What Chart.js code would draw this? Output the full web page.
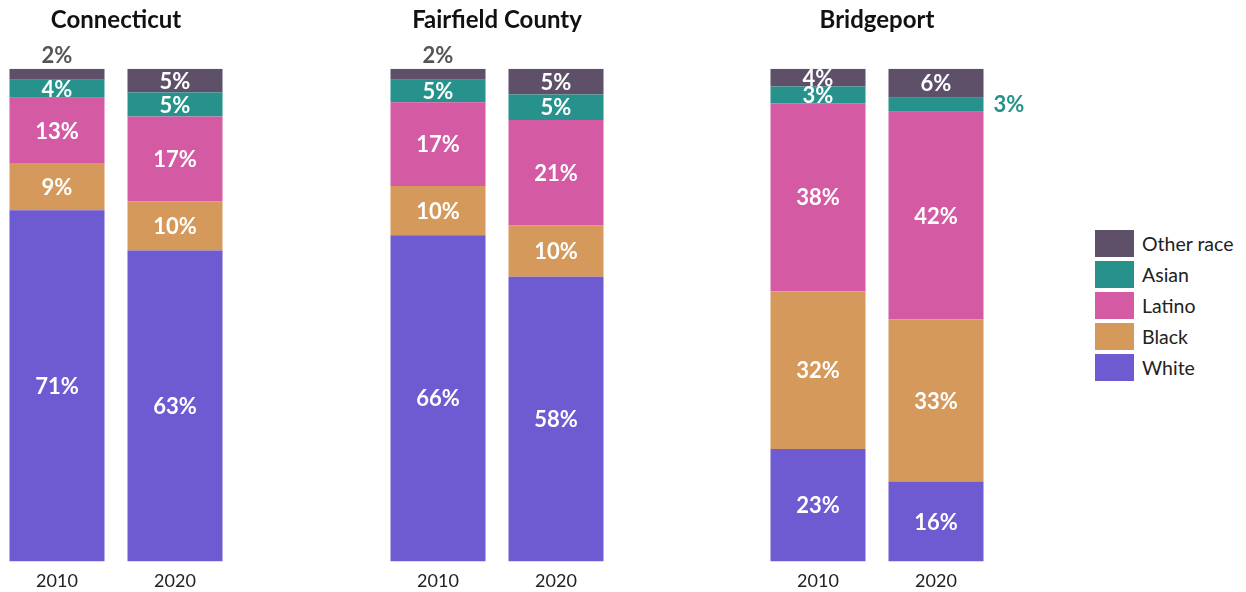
<!DOCTYPE html>
<html>
<head>
<meta charset="utf-8">
<script src="https://cdn.jsdelivr.net/npm/chart.js@4"></script>
<style>
  body { margin: 0; width: 1246px; height: 592px; overflow: hidden; background: #fff; position: relative; font-family: "Source Sans Pro", Lato, sans-serif; }
  canvas { position: absolute; top: 0; }
  #legend { position: absolute; left: 1095px; top: 230px; }
  .item { display: flex; align-items: center; height: 27px; margin-bottom: 4px; font-size: 19.5px; color: #222; }
  .swatch { width: 39px; height: 27px; margin-right: 8px; }
</style>
</head>
<body>
<canvas id="c0" width="327" height="592" style="left:-42px"></canvas>
<canvas id="c1" width="327" height="592" style="left:339px"></canvas>
<canvas id="c2" width="327" height="592" style="left:719px"></canvas>
<div id="legend"></div>
<script>
const regions = ["Connecticut", "Fairfield County", "Bridgeport"];
const years = ["2010", "2020"];
// values per region and year: CT 2010, CT 2020, FF 2010, FF 2020, BP 2010, BP 2020
const white = [71.3, 63.1, 66.2, 57.8, 22.8, 16.2];
const black = [9.4, 10.0, 10.0, 10.4, 32.0, 32.9];
const latino = [13.4, 17.2, 17.0, 21.4, 38.2, 42.2];
const asian = [3.7, 4.9, 4.6, 5.2, 3.4, 2.8];
const other = [2.2, 4.8, 2.2, 5.2, 3.6, 5.9];

const races = ["White", "Black", "Latino", "Asian", "Other race"];
const series = [white, black, latino, asian, other];
const colors = ["#6E5BD2", "#D4995B", "#D35AA3", "#26928B", "#5E5069"];

const labelPlugin = {
  id: "segLabels",
  afterDatasetsDraw(chart) {
    const ctx = chart.ctx;
    ctx.save();
    ctx.font = "bold 22px 'Source Sans Pro', Lato, sans-serif";
    chart.data.datasets.forEach((ds, i) => {
      const meta = chart.getDatasetMeta(i);
      meta.data.forEach((bar, j) => {
        const v = ds.data[j];
        const text = Math.round(v) + "%";
        if (v < 2.5 && i === chart.data.datasets.length - 1) {
          ctx.fillStyle = "#555555";
          ctx.textAlign = "center";
          ctx.textBaseline = "bottom";
          ctx.fillText(text, bar.x, bar.y - 2);
        } else if (v < 3) {
          ctx.fillStyle = ds.backgroundColor;
          ctx.textAlign = "left";
          ctx.textBaseline = "middle";
          ctx.fillText(text, bar.x + bar.width / 2 + 10, (bar.y + bar.base) / 2);
        } else {
          ctx.fillStyle = "#ffffff";
          ctx.textAlign = "center";
          ctx.textBaseline = "middle";
          ctx.fillText(text, bar.x, (bar.y + bar.base) / 2 + 1);
        }
      });
    });
    ctx.restore();
  }
};

regions.forEach((name, r) => {
  new Chart(document.getElementById("c" + r), {
    type: "bar",
    data: {
      labels: years,
      datasets: races.map((race, i) => ({
        label: race,
        data: series[i].slice(r * 2, r * 2 + 2),
        backgroundColor: colors[i],
        borderWidth: 0,
        categoryPercentage: 1,
        barPercentage: 95 / 118
      }))
    },
    options: {
      responsive: false,
      animation: false,
      devicePixelRatio: 1,
      layout: { padding: { left: 40, right: 51, top: 0, bottom: -9 } },
      plugins: {
        legend: { display: false },
        tooltip: { enabled: false },
        title: {
          display: true,
          text: name,
          color: "#111",
          font: { family: "'Source Sans Pro', Lato, sans-serif", size: 24, weight: "bold" },
          padding: { top: 6, bottom: 34 }
        }
      },
      scales: {
        x: {
          stacked: true,
          grid: { display: false, drawTicks: false },
          border: { display: false },
          ticks: { color: "#222", padding: 9, font: { family: "'Source Sans Pro', Lato, sans-serif", size: 18 } }
        },
        y: { stacked: true, display: false, min: 0, max: 100 }
      }
    },
    plugins: [labelPlugin]
  });
});

const legend = document.getElementById("legend");
for (let i = races.length - 1; i >= 0; i--) {
  const item = document.createElement("div");
  item.className = "item";
  item.innerHTML = '<div class="swatch" style="background:' + colors[i] + '"></div>' + races[i];
  legend.append(item);
}
</script>
</body>
</html>
